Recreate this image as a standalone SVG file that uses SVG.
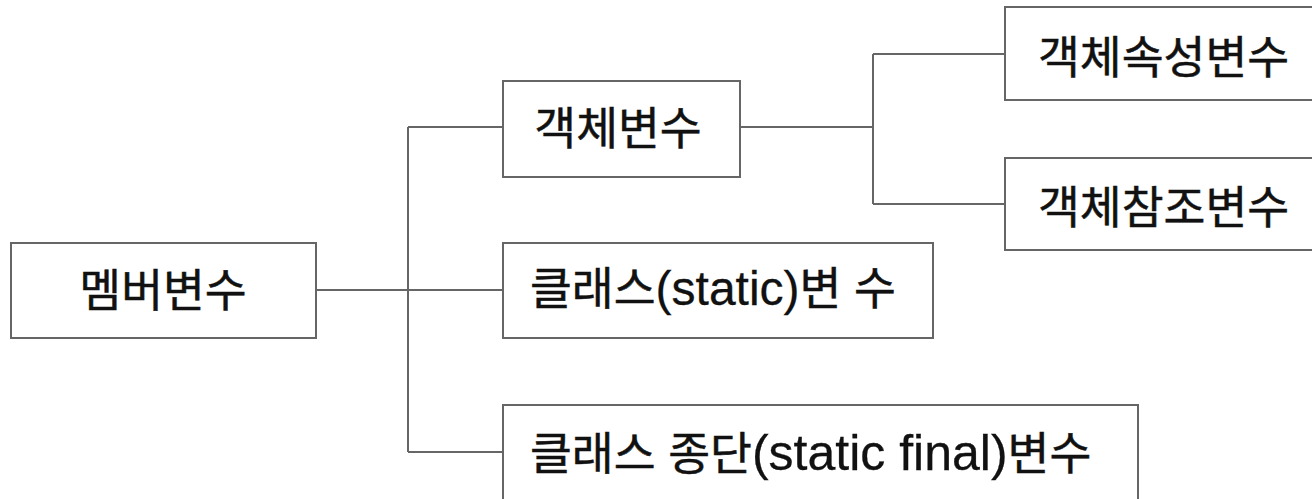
<svg xmlns="http://www.w3.org/2000/svg" width="1312" height="499" viewBox="0 0 1312 499">
<style>
.box{fill:#fff;stroke:#666;stroke-width:2}
.lbl{font-family:"Liberation Sans","Noto Sans CJK KR",sans-serif;font-size:45.5px;font-weight:400;fill:#111;stroke:#111;stroke-width:0.5}
.lat{font-size:48px;stroke-width:0.3}
.lat2{font-size:50px;stroke-width:0.3}
.con{fill:none;stroke:#666;stroke-width:2}
</style>
<rect width="1312" height="499" fill="#fff"/>
<g id="connectors">
<path class="con" d="M316 290H408M408 127V452M408 127H503M408 290H503M408 452H503"/>
<path class="con" d="M740 127H873M873 54V204M873 54H1005M873 204H1005"/>
</g>
<g id="n-member"><rect class="box" x="11" y="243" width="305" height="95"/><text class="lbl" x="163" y="307" text-anchor="middle">멤버변수</text></g>
<g id="n-object"><rect class="box" x="503" y="81" width="237" height="96"/><text class="lbl" x="618" y="145" text-anchor="middle">객체변수</text></g>
<g id="n-attr"><rect class="box" x="1005" y="7" width="320" height="93"/><text class="lbl" x="1038" y="74">객체속성변수</text></g>
<g id="n-ref"><rect class="box" x="1005" y="158" width="320" height="92"/><text class="lbl" x="1038" y="224">객체참조변수</text></g>
<g id="n-static"><rect class="box" x="503" y="243" width="430" height="95"/><text class="lbl" x="530" y="305">클래스<tspan class="lat">(static)</tspan>변 수</text></g>
<g id="n-final"><rect class="box" x="503" y="405" width="635" height="110"/><text class="lbl" x="530" y="470">클래스 종단<tspan class="lat2">(static final)</tspan>변수</text></g>
</svg>
